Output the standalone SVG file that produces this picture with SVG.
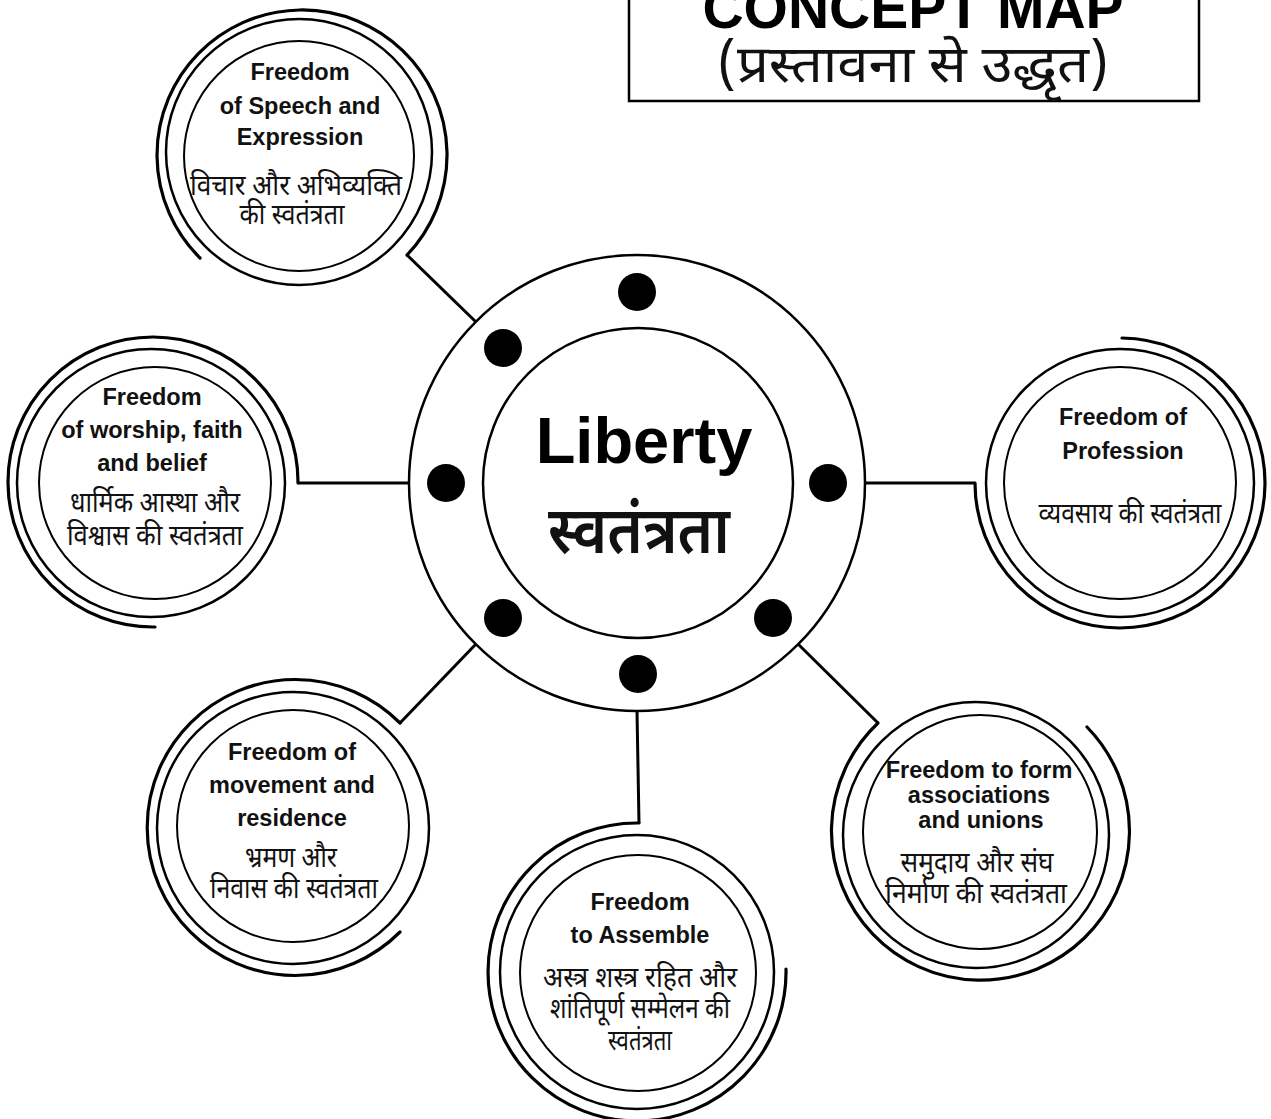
<svg xmlns="http://www.w3.org/2000/svg" width="1271" height="1119" viewBox="0 0 1271 1119">
<style>
.bg{fill:#fff}
.ring{fill:none;stroke:#000}
.in{stroke-width:2}
.mid{stroke-width:2.5}
.out{stroke-width:3.2;stroke-linecap:round}
.conn{fill:none;stroke:#000;stroke-width:3;stroke-linejoin:miter}
.en{font-family:"Liberation Sans",Arial,sans-serif;font-weight:bold;font-size:23.5px;text-anchor:middle;fill:#111}
.hi{font-family:"Noto Sans Devanagari","Lohit Devanagari","Mukta","FreeSans","Noto Sans",sans-serif;font-size:29px;text-anchor:middle;fill:#111}
.dot{fill:#000}
</style>
<rect class="bg" x="0" y="0" width="1271" height="1119"/>

<g id="title">
<rect x="629" y="-5" width="570" height="106" fill="none" stroke="#000" stroke-width="2.5"/>
<text x="913" y="28" font-family="Liberation Sans,Arial,sans-serif" font-weight="bold" font-size="57" text-anchor="middle">CONCEPT MAP</text>
<text x="913" y="82" class="hi" style="font-size:52px" textLength="392" lengthAdjust="spacingAndGlyphs">(प्रस्तावना से उद्धृत)</text>
</g>

<g id="connectors">
<path class="conn" d="M407,255 L476,322"/>
<path class="conn" d="M298,483 L409,483"/>
<path class="conn" d="M865,483 L975,483"/>
<path class="conn" d="M400,723 L476,644"/>
<path class="conn" d="M637,711 L639,823"/>
<path class="conn" d="M798,644 L878,723"/>
</g>

<g id="center">
<circle class="ring mid" cx="637" cy="483" r="228"/>
<circle class="ring mid" cx="638" cy="483" r="155"/>
<circle class="dot" cx="637" cy="292" r="19"/>
<circle class="dot" cx="503" cy="348" r="19"/>
<circle class="dot" cx="446" cy="483" r="19"/>
<circle class="dot" cx="828" cy="483" r="19"/>
<circle class="dot" cx="503" cy="618" r="19"/>
<circle class="dot" cx="773" cy="618" r="19"/>
<circle class="dot" cx="638" cy="674" r="19"/>
<text x="644" y="463" font-family="Liberation Sans,Arial,sans-serif" font-weight="bold" font-size="65" text-anchor="middle">Liberty</text>
<text x="639" y="553" class="hi" style="font-size:66px;font-weight:600" textLength="182" lengthAdjust="spacingAndGlyphs">स्वतंत्रता</text>
</g>

<g id="node-speech">
<circle class="ring in" cx="299" cy="156" r="115"/>
<circle class="ring mid" cx="299" cy="152" r="133"/>
<path class="ring out" d="M200,258 A145,145 0 1 1 407,255"/>
<text class="en" x="300" y="80">Freedom</text>
<text class="en" x="300" y="114">of Speech and</text>
<text class="en" x="300" y="145">Expression</text>
<text class="hi" x="296" y="195" textLength="212" lengthAdjust="spacingAndGlyphs">विचार और अभिव्यक्ति</text>
<text class="hi" x="292" y="224" textLength="105" lengthAdjust="spacingAndGlyphs">की स्वतंत्रता</text>
</g>

<g id="node-worship">
<circle class="ring in" cx="155" cy="483" r="116"/>
<circle class="ring mid" cx="151" cy="483" r="134"/>
<path class="ring out" d="M155,627 A145,145 0 1 1 298,483"/>
<text class="en" x="152" y="405">Freedom</text>
<text class="en" x="152" y="438">of worship, faith</text>
<text class="en" x="152" y="471">and belief</text>
<text class="hi" x="155" y="512" textLength="170" lengthAdjust="spacingAndGlyphs">धार्मिक आस्था और</text>
<text class="hi" x="155" y="545" textLength="176" lengthAdjust="spacingAndGlyphs">विश्वास की स्वतंत्रता</text>
</g>

<g id="node-profession">
<circle class="ring in" cx="1120" cy="483" r="116"/>
<circle class="ring mid" cx="1120" cy="483" r="134"/>
<path class="ring out" d="M1122,338 A145,145 0 1 1 975,483"/>
<text class="en" x="1123" y="425">Freedom of</text>
<text class="en" x="1123" y="459">Profession</text>
<text class="hi" x="1130" y="523" textLength="183" lengthAdjust="spacingAndGlyphs">व्यवसाय की स्वतंत्रता</text>
</g>

<g id="node-movement">
<circle class="ring in" cx="293" cy="826" r="116"/>
<circle class="ring mid" cx="293" cy="828" r="136"/>
<path class="ring out" d="M400,723 A148,148 0 1 0 400,932"/>
<text class="en" x="292" y="760">Freedom of</text>
<text class="en" x="292" y="793">movement and</text>
<text class="en" x="292" y="826">residence</text>
<text class="hi" x="291" y="867" textLength="92" lengthAdjust="spacingAndGlyphs">भ्रमण और</text>
<text class="hi" x="294" y="898" textLength="168" lengthAdjust="spacingAndGlyphs">निवास की स्वतंत्रता</text>
</g>

<g id="node-assemble">
<circle class="ring in" cx="638" cy="973" r="118"/>
<circle class="ring mid" cx="637" cy="972" r="137"/>
<path class="ring out" d="M639,823 A149,149 0 1 0 786,969"/>
<text class="en" x="640" y="910">Freedom</text>
<text class="en" x="640" y="943">to Assemble</text>
<text class="hi" x="640" y="987" textLength="194" lengthAdjust="spacingAndGlyphs">अस्त्र शस्त्र रहित और</text>
<text class="hi" x="640" y="1018" textLength="180" lengthAdjust="spacingAndGlyphs">शांतिपूर्ण सम्मेलन की</text>
<text class="hi" x="640" y="1050" textLength="64" lengthAdjust="spacingAndGlyphs">स्वतंत्रता</text>
</g>

<g id="node-associations">
<circle class="ring in" cx="980" cy="832" r="117"/>
<circle class="ring mid" cx="976" cy="835" r="133"/>
<path class="ring out" d="M878,723 A149,149 0 1 0 1087,727"/>
<text class="en" x="979" y="778">Freedom to form</text>
<text class="en" x="979" y="803">associations</text>
<text class="en" x="981" y="828">and unions</text>
<text class="hi" x="977" y="872" textLength="153" lengthAdjust="spacingAndGlyphs">समुदाय और संघ</text>
<text class="hi" x="976" y="903" textLength="182" lengthAdjust="spacingAndGlyphs">निर्माण की स्वतंत्रता</text>
</g>
</svg>
